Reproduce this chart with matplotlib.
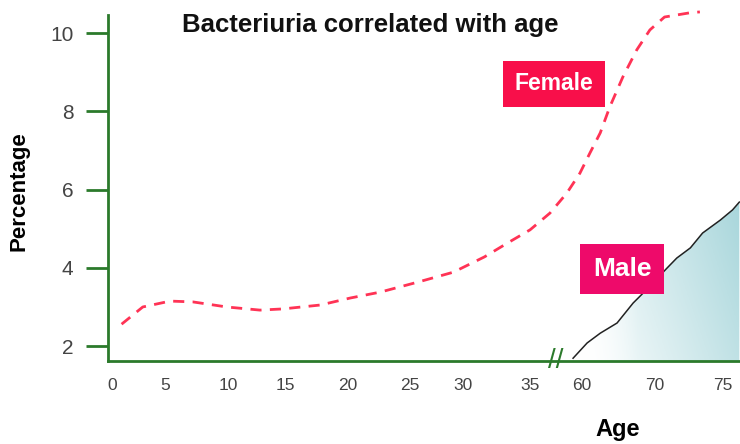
import matplotlib
matplotlib.use('Agg')
import matplotlib.pyplot as plt
import numpy as np

# axis layout: ages shown on the broken x axis
tick_ages = [0, 5, 10, 15, 20, 25, 30, 35, 60, 70, 75]
tick_labels = ["0", "5", "10", "15", "20", "25", "30", "35", "60", "70", "75"]
y_ticks = [2, 4, 6, 8, 10]

# female (dashed red)
female_age = [0.9, 2.9, 5.4, 7.2, 9.9, 12.8, 14.8, 17.8, 20.2, 22.6, 25.8, 29.1,
              31.6, 33.3, 35.0, 44.6, 52.7, 59.0, 61.1, 62.5, 63.8, 65.6, 67.5,
              69.3, 70.7, 72.6, 73.3]
female_pct = [2.56, 3.0, 3.15, 3.13, 3.0, 2.92, 2.95, 3.05, 3.23, 3.38, 3.64, 3.89,
              4.28, 4.63, 4.97, 5.40, 5.91, 6.42, 6.94, 7.45, 8.11, 8.88, 9.57,
              10.08, 10.41, 10.52, 10.54]

# male (black)
male_age = [55.7, 60.7, 62.5, 64.8, 67.0, 68.4, 70.9, 71.6, 72.6, 73.5, 74.8, 75.7, 76.2]
male_pct = [1.69, 2.08, 2.33, 2.59, 3.10, 3.36, 4.0, 4.25, 4.51, 4.89, 5.22, 5.48, 5.68]

# where each tick age sits along the axis (uneven spacing of the original)
tick_pos = np.array([112, 165, 228, 285, 348, 410, 463, 530, 582, 655, 723], float)
age_arr = np.array(tick_ages, float)


def forward(a):
    a = np.asarray(a, float)
    p = np.interp(a, age_arr, tick_pos)
    s0 = (tick_pos[1] - tick_pos[0]) / (age_arr[1] - age_arr[0])
    s1 = (tick_pos[-1] - tick_pos[-2]) / (age_arr[-1] - age_arr[-2])
    p = np.where(a < age_arr[0], tick_pos[0] + (a - age_arr[0]) * s0, p)
    p = np.where(a > age_arr[-1], tick_pos[-1] + (a - age_arr[-1]) * s1, p)
    return p


def inverse(p):
    p = np.asarray(p, float)
    a = np.interp(p, tick_pos, age_arr)
    s0 = (age_arr[1] - age_arr[0]) / (tick_pos[1] - tick_pos[0])
    s1 = (age_arr[-1] - age_arr[-2]) / (tick_pos[-1] - tick_pos[-2])
    a = np.where(p < tick_pos[0], age_arr[0] + (p - tick_pos[0]) * s0, a)
    a = np.where(p > tick_pos[-1], age_arr[-1] + (p - tick_pos[-1]) * s1, a)
    return a


green = "#2b7a2b"
plt.rcParams['font.family'] = ['Liberation Sans', 'DejaVu Sans']

fig = plt.figure(figsize=(7.4, 4.44), dpi=100)
ax = fig.add_axes([0.146, 0.187, 0.854, 0.802])
ax.set_xscale('function', functions=(forward, inverse))
ax.set_xlim(inverse(108), inverse(740))
ax.set_ylim(1.62, 10.72)

# gradient under the male curve
ny, nx = 200, 300
gx, gy = np.meshgrid(np.linspace(0, 1, nx), np.linspace(0, 1, ny))
w = np.clip((gx - 0.74) / 0.26, 0, 1) * 0.75 + np.clip(gy / 0.45, 0, 1) * 0.25
w = np.clip(w * np.clip((gx - 0.74) / 0.1, 0, 1), 0, 1) ** 1.1
teal = np.array([0.66, 0.84, 0.86])
img = np.ones((ny, nx, 3)) * (1 - w[..., None]) + teal * w[..., None]
poly = ax.fill_between(male_age, male_pct, 1.62, color='none', lw=0)
im = ax.imshow(img, extent=[0, 1, 0, 1], transform=ax.transAxes, origin='lower',
               aspect='auto', zorder=0)
im.set_clip_path(poly.get_paths()[0], transform=ax.transData)

ax.plot(female_age, female_pct, color='#ff3355', lw=2, dashes=(4, 3), clip_on=False)
ax.plot(male_age, male_pct, color='#222222', lw=1.1)

for side in ['top', 'right']:
    ax.spines[side].set_visible(False)
for side in ['left', 'bottom']:
    ax.spines[side].set_color(green)
    ax.spines[side].set_linewidth(2)
ax.spines['left'].set_bounds(1.62, 10.45)

ax.set_yticks(y_ticks)
ax.set_yticklabels([str(v) for v in y_ticks])
ax.tick_params(axis='y', length=16, width=2, color=green, labelcolor='#444444',
               labelsize=15, pad=9)
ax.set_xticks(tick_ages)
ax.set_xticklabels(tick_labels)
ax.tick_params(axis='x', length=0, labelcolor='#444444', labelsize=12.5, pad=12)
ax.minorticks_off()

# axis break marks
ax.text(inverse(556), 1.62, "//", color=green, fontsize=20, ha='center', va='center')

fig.text(0.50, 0.944, "Bacteriuria correlated with age", fontsize=18.5, fontweight='bold',
         ha='center', va='center', color='#111111')
fig.text(0.026, 0.57, "Percentage", rotation=90, fontsize=16, fontweight='bold',
         ha='center', va='center')
fig.text(0.835, 0.032, "Age", fontsize=17, fontweight='bold', ha='center', va='center')

ax.text(inverse(554), 8.70, "Female", color='white', fontsize=16.5, fontweight='bold',
        ha='center', va='center',
        bbox=dict(boxstyle='square,pad=0.5', fc='#f80f4a', ec='none'))
ax.text(inverse(622), 3.97, "Male", color='white', fontsize=19, fontweight='bold',
        ha='center', va='center',
        bbox=dict(boxstyle='square,pad=0.5', fc='#ee0a6a', ec='none'))

fig.savefig("out.png", dpi=100)
